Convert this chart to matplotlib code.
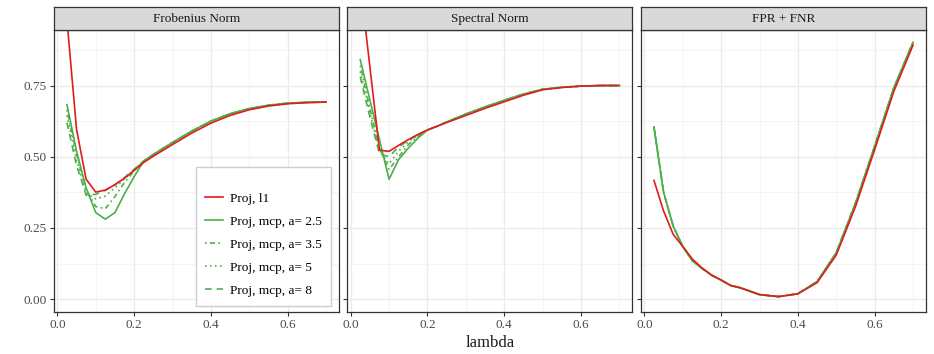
import matplotlib
matplotlib.use("Agg")
import matplotlib.pyplot as plt
from matplotlib.ticker import MultipleLocator

plt.rcParams['font.family'] = ['Liberation Serif', 'DejaVu Serif']

lam = [0.025, 0.05, 0.075, 0.1, 0.125, 0.15, 0.175, 0.2, 0.225, 0.25, 0.3, 0.35,
       0.4, 0.45, 0.5, 0.55, 0.6, 0.65, 0.7]

panels = ["Frobenius Norm", "Spectral Norm", "FPR + FNR"]
series = ["Proj, l1", "Proj, mcp, a= 2.5", "Proj, mcp, a= 3.5", "Proj, mcp, a= 5", "Proj, mcp, a= 8"]

frob_l1 = [0.98, 0.596, 0.421, 0.376, 0.383, 0.402, 0.425, 0.452, 0.48, 0.502, 0.543, 0.583,
           0.618, 0.645, 0.665, 0.678, 0.686, 0.690, 0.692]
frob_a25 = [0.683, 0.52, 0.39, 0.304, 0.281, 0.304, 0.37, 0.43, 0.485, 0.508, 0.55, 0.59,
            0.625, 0.651, 0.669, 0.681, 0.688, 0.691, 0.692]
frob_a35 = [0.665, 0.51, 0.385, 0.325, 0.318, 0.36, 0.41, 0.45, 0.485, 0.508, 0.55, 0.59,
            0.625, 0.651, 0.669, 0.681, 0.688, 0.691, 0.692]
frob_a5 = [0.645, 0.49, 0.372, 0.352, 0.362, 0.392, 0.422, 0.455, 0.485, 0.508, 0.55, 0.59,
           0.625, 0.651, 0.669, 0.681, 0.688, 0.691, 0.692]
frob_a8 = [0.62, 0.47, 0.365, 0.368, 0.382, 0.402, 0.427, 0.456, 0.485, 0.508, 0.55, 0.59,
           0.625, 0.651, 0.669, 0.681, 0.688, 0.691, 0.692]

spec_l1 = [1.11, 0.817, 0.523, 0.519, 0.54, 0.56, 0.578, 0.594, 0.607, 0.62, 0.645, 0.67,
           0.693, 0.716, 0.735, 0.743, 0.748, 0.75, 0.75]
spec_a25 = [0.841, 0.70, 0.56, 0.421, 0.49, 0.53, 0.565, 0.594, 0.607, 0.622, 0.65, 0.675,
            0.698, 0.72, 0.737, 0.744, 0.748, 0.75, 0.75]
spec_a35 = [0.82, 0.67, 0.53, 0.455, 0.50, 0.542, 0.572, 0.594, 0.607, 0.622, 0.65, 0.675,
            0.698, 0.72, 0.737, 0.744, 0.748, 0.75, 0.75]
spec_a5 = [0.80, 0.655, 0.52, 0.475, 0.52, 0.552, 0.575, 0.594, 0.607, 0.622, 0.65, 0.675,
           0.698, 0.72, 0.737, 0.744, 0.748, 0.75, 0.75]
spec_a8 = [0.78, 0.64, 0.51, 0.50, 0.535, 0.557, 0.578, 0.594, 0.607, 0.622, 0.65, 0.675,
           0.698, 0.72, 0.737, 0.744, 0.748, 0.75, 0.75]

fpr_l1 = [0.417, 0.31, 0.228, 0.185, 0.141, 0.11, 0.085, 0.067, 0.048, 0.04, 0.016, 0.009,
          0.019, 0.058, 0.155, 0.325, 0.525, 0.73, 0.892]
fpr_mcp = [0.605, 0.376, 0.257, 0.185, 0.135, 0.108, 0.084, 0.067, 0.048, 0.04, 0.016, 0.009,
           0.019, 0.062, 0.163, 0.337, 0.537, 0.742, 0.902]

data = {
    "Frobenius Norm": [frob_l1, frob_a25, frob_a35, frob_a5, frob_a8],
    "Spectral Norm": [spec_l1, spec_a25, spec_a35, spec_a5, spec_a8],
    "FPR + FNR": [fpr_l1, fpr_mcp, fpr_mcp, fpr_mcp, fpr_mcp],
}

RED = "#E41A1C"
GREEN = "#4DAF4A"
styles = [
    dict(color=RED, ls="-"),
    dict(color=GREEN, ls="-"),
    dict(color=GREEN, ls=(0, (1, 2, 3, 2))),
    dict(color=GREEN, ls=(0, (1, 2))),
    dict(color=GREEN, ls=(0, (4, 3))),
]

W, H = 934, 354
fig = plt.figure(figsize=(W / 100, H / 100), dpi=100)
fig.patch.set_facecolor("white")

lefts = [54, 347.3, 641]
right_w = 285
top_px, bot_px, strip_top = 30, 312, 7

for i, name in enumerate(panels):
    l = lefts[i]
    ax = fig.add_axes([l / W, (H - bot_px) / H, right_w / W, (bot_px - top_px) / H])
    sax = fig.add_axes([l / W, (H - top_px) / H, right_w / W, (top_px - strip_top) / H])
    sax.set_facecolor("#D9D9D9")
    sax.set_xticks([]); sax.set_yticks([])
    for sp in sax.spines.values():
        sp.set_color("#333333"); sp.set_linewidth(0.9)
    sax.text(0.5, 0.48, name, ha="center", va="center", fontsize=9.5, color="#1A1A1A",
             transform=sax.transAxes)

    for j, s in enumerate(series):
        ax.plot(lam, data[name][j], lw=1.2, label=s, **styles[j], zorder=3 if j == 0 else 2)

    ax.set_xlim(-0.00875, 0.73375)
    ax.set_ylim(-0.045, 0.945)
    ax.xaxis.set_major_locator(MultipleLocator(0.2))
    ax.xaxis.set_minor_locator(MultipleLocator(0.1))
    ax.yaxis.set_major_locator(MultipleLocator(0.25))
    ax.yaxis.set_minor_locator(MultipleLocator(0.125))
    ax.grid(which="major", color="#EBEBEB", lw=1.0)
    ax.grid(which="minor", color="#F2F2F2", lw=0.6)
    ax.set_axisbelow(True)
    for sp in ax.spines.values():
        sp.set_color("#333333"); sp.set_linewidth(0.9)
    ax.tick_params(which="major", length=3, color="#333333", labelsize=9.5,
                   labelcolor="#4D4D4D", pad=2)
    ax.tick_params(which="minor", length=0)
    ax.xaxis.set_major_formatter(matplotlib.ticker.FuncFormatter(lambda v, p: f"{v:.1f}"))
    if i == 0:
        ax.yaxis.set_major_formatter(matplotlib.ticker.FuncFormatter(lambda v, p: f"{v:.2f}"))
        leg = ax.legend(loc="lower right", bbox_to_anchor=(0.972, 0.021), fontsize=9.5,
                        frameon=True, fancybox=False, edgecolor="#CCCCCC", framealpha=1,
                        handlelength=1.4, labelspacing=0.82, borderpad=0.7,
                        handletextpad=0.5, borderaxespad=0,
                        title=" ", title_fontsize=4)
        leg.get_frame().set_linewidth(1.0)
    else:
        ax.tick_params(axis="y", labelleft=False)
    if i == 1:
        ax.set_xlabel("lambda", fontsize=12, color="#1A1A1A", labelpad=3)

fig.savefig("out.png", dpi=100, facecolor="white")
